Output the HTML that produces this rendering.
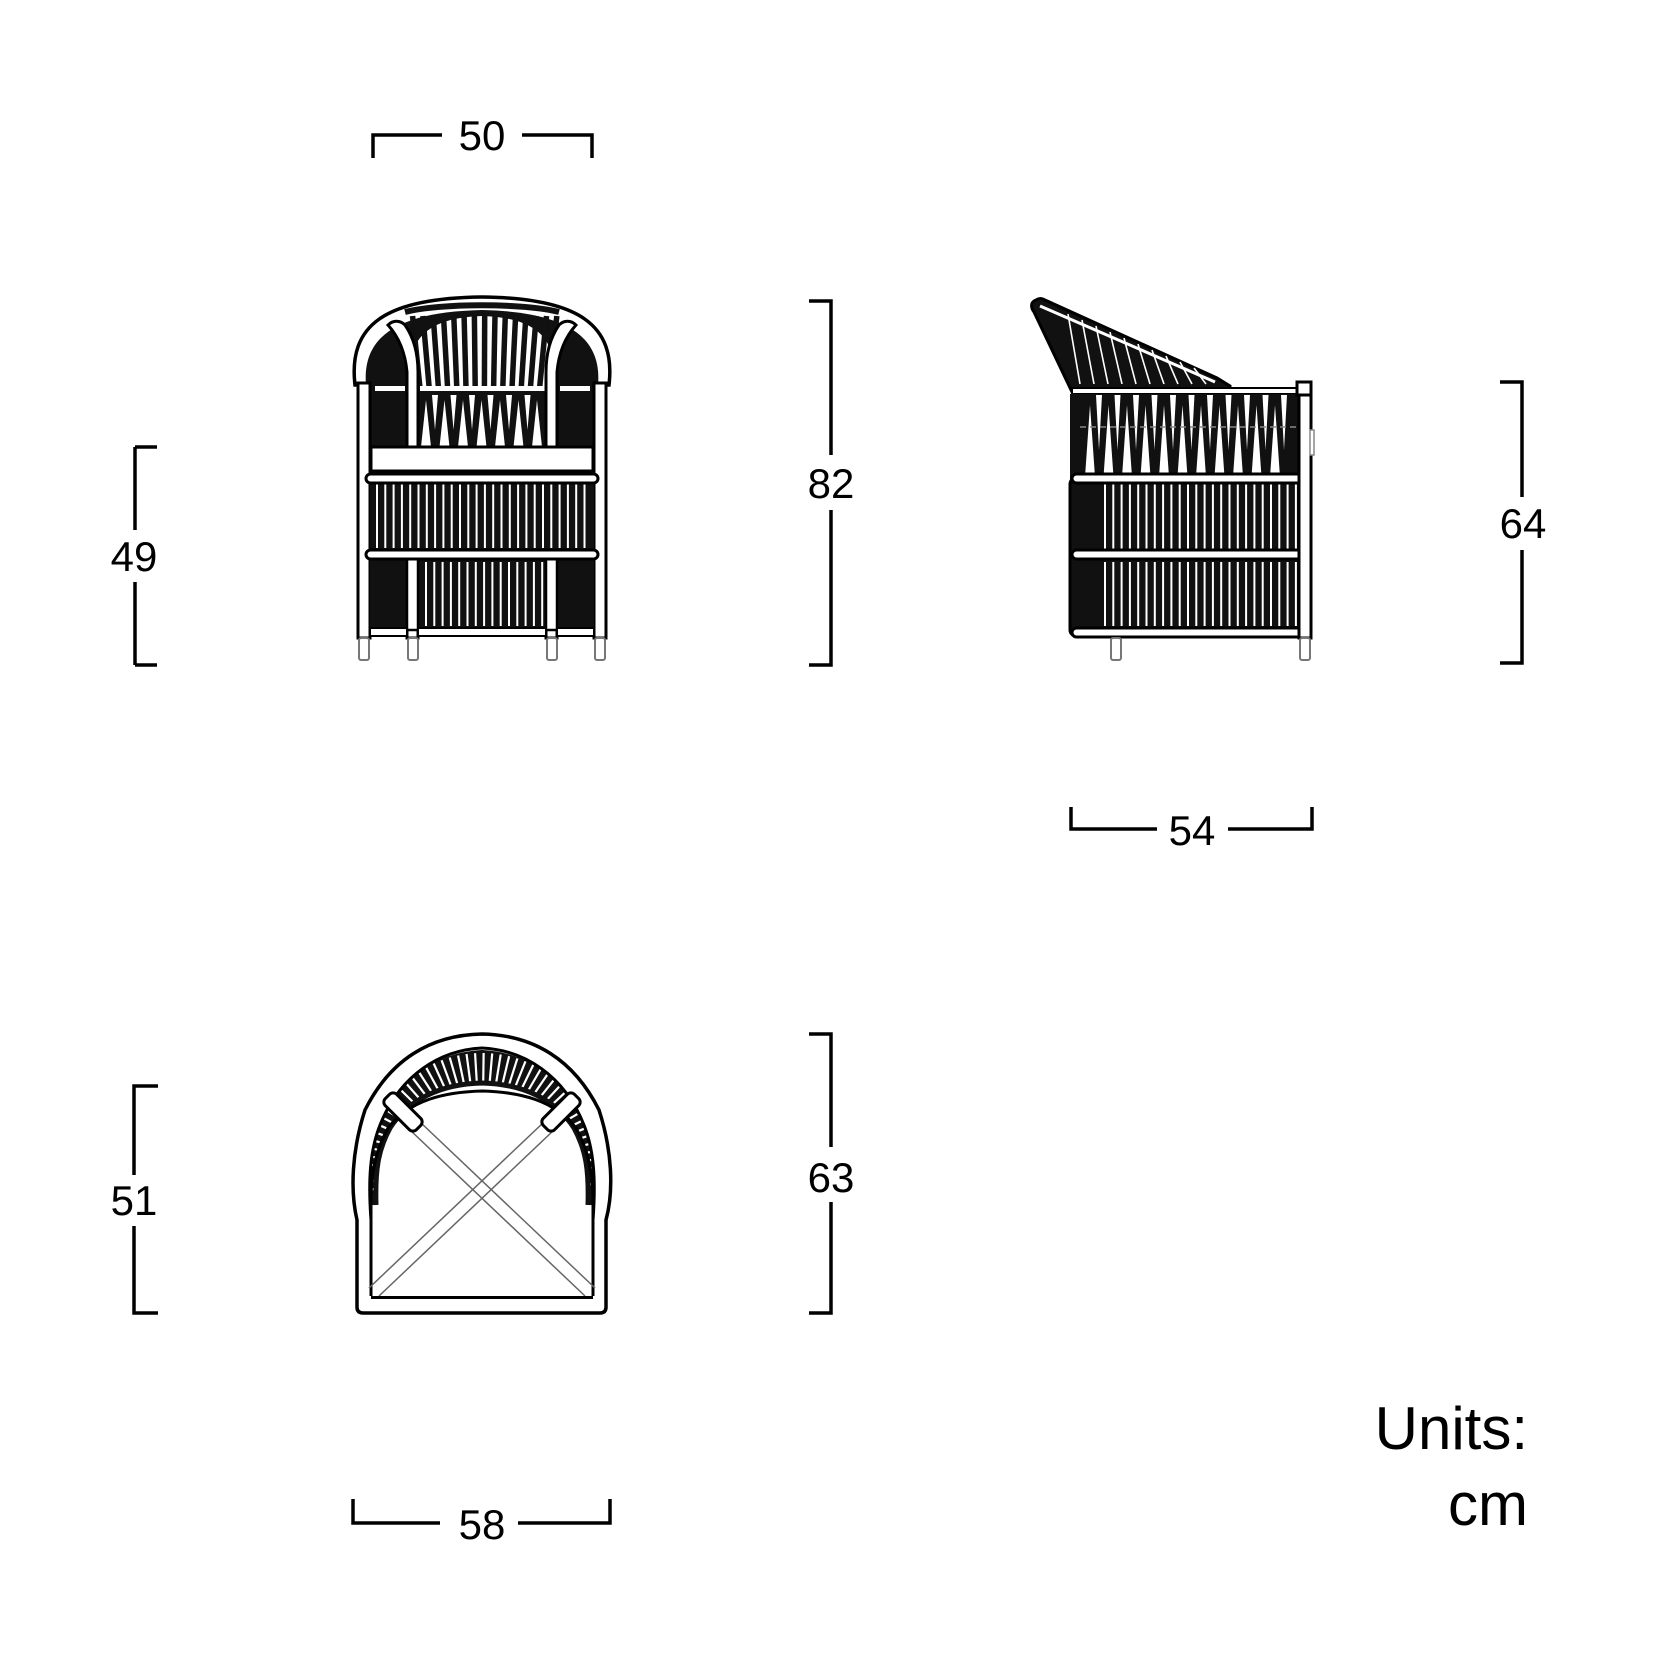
<!DOCTYPE html>
<html><head><meta charset="utf-8"><style>
html,body{margin:0;padding:0;background:#fff}
svg{display:block}
text{font-family:"Liberation Sans",Arial,sans-serif;fill:#000}
</style></head><body>
<svg id="s" width="1654" height="1654" viewBox="0 0 1654 1654" xmlns="http://www.w3.org/2000/svg">
<rect width="1654" height="1654" fill="#fff"/>
<g fill="none" stroke="#000" stroke-width="3.5">
<polyline points="373,158 373,135 442,135"/><polyline points="522,135 592,135 592,158"/>
<polyline points="135,447 157,447"/><line x1="135" y1="447" x2="135" y2="530"/><line x1="135" y1="582" x2="135" y2="665"/><polyline points="135,665 157,665"/>
<polyline points="809,301 831,301 831,455"/><polyline points="831,510 831,665 809,665"/>
<polyline points="1500,382 1522,382 1522,497"/><polyline points="1522,550 1522,663 1500,663"/>
<polyline points="1071,807 1071,829 1157,829"/><polyline points="1228,829 1312,829 1312,807"/>
<polyline points="158,1086 134,1086 134,1175"/><polyline points="134,1226 134,1313 158,1313"/>
<polyline points="809,1034 831,1034 831,1147"/><polyline points="831,1202 831,1313 809,1313"/>
<polyline points="353,1499 353,1523 440,1523"/><polyline points="518,1523 610,1523 610,1499"/>
</g>
<g font-size="42" text-anchor="middle">
<text x="482" y="150">50</text>
<text x="134" y="571">49</text>
<text x="831" y="498">82</text>
<text x="1523" y="538">64</text>
<text x="1192" y="845">54</text>
<text x="134" y="1215">51</text>
<text x="831" y="1192">63</text>
<text x="482" y="1539">58</text>
</g>
<g font-size="60" text-anchor="end">
<text x="1528" y="1449">Units:</text>
<text x="1528" y="1525">cm</text>
</g>
<g id="front"></g>
<g id="side"></g>
<g id="top"></g>
</svg>
<script>
var NS="http://www.w3.org/2000/svg";
function el(p,t,a){var e=document.createElementNS(NS,t);for(var k in a)e.setAttribute(k,a[k]);document.getElementById(p).appendChild(e);return e;}
function R(p,x,y,w,h,f,s,sw,rx){return el(p,'rect',{x:x,y:y,width:w,height:h,fill:f||'#000',stroke:s||'none','stroke-width':sw||0,rx:rx||0});}
var F='front';
el(F,'path',{d:'M355,385 C348,325 385,298 482,297 C579,298 616,325 609,385 Z',fill:'#fff',stroke:'#000','stroke-width':3.5});
el(F,'path',{d:'M366,385 C362,338 395,312 482,310 C569,312 602,338 598,385 Z',fill:'#111'});
R(F,366,385,232,245,'#111');
el(F,'path',{d:'M412,388 C405,345 420,318 482,316 C544,318 559,345 552,388 Z',fill:'#fff'});
for(var i=0;i<15;i++){var x=420+i*9.2;el(F,'path',{d:'M'+(x+ (x-482)*0.12)+',316 L'+(x)+',388',stroke:'#111','stroke-width':5.5,fill:'none'});}
el(F,'path',{d:'M405,312 C440,303 524,303 559,312',stroke:'#111','stroke-width':6,fill:'none'});
R(F,375,386,30,5,'#fff');R(F,420,386,125,5,'#fff');R(F,560,386,30,5,'#fff');
for(var i=0;i<7;i++){var x=426+i*18.5;el(F,'path',{d:'M'+(x-5)+',447 L'+x+',400 L'+(x+5)+',447 Z',fill:'#fff'});}
for(var i=0;i<6;i++){var x=435+i*18.5;el(F,'path',{d:'M'+(x-3)+',395 L'+x+',430 L'+(x+3)+',395 Z',fill:'#fff'});}
R(F,358,383,12,255,'#fff','#000',3);R(F,594,383,12,255,'#fff','#000',3);
el(F,'path',{d:'M407,638 L407,372 C405,350 397,335 388,325 C393,320 400,320 405,325 C414,338 418,355 418,372 L418,638 Z',fill:'#fff',stroke:'#000','stroke-width':3});
el(F,'path',{d:'M557,638 L557,372 C559,350 567,335 576,325 C571,320 564,320 559,325 C550,338 546,355 546,372 L546,638 Z',fill:'#fff',stroke:'#000','stroke-width':3});
R(F,371,447,222,24,'#fff','#000',3);
R(F,370,482,224,68,'#111');
for(var x=376;x<590;x+=8.3)R(F,x,484,2,64,'#fff');
R(F,370,558,224,72,'#111');
R(F,407,558,11,72,'#fff','#000',2.5);R(F,546,558,11,72,'#fff','#000',2.5);
for(var x=425;x<542;x+=8.3)R(F,x,562,2,64,'#fff');
R(F,366,474,232,9,'#fff','#000',3,4.5);
R(F,366,550,232,9,'#fff','#000',3,4.5);
R(F,370,628,37,8,'#fff','#000',2);R(F,418,628,128,8,'#fff','#000',2);R(F,557,628,37,8,'#fff','#000',2);
[358,407,546,594].forEach(function(x){R(F,x+1,638,10,22,'#fff','#777',2,2);});
var S='side';
el(S,'path',{d:'M1036,300 C1030,302 1031,308 1034,312 L1072,392 L1230,392 L1230,386 L1217,378 L1045,300 C1042,298 1039,298 1036,300 Z',fill:'#111',stroke:'#000','stroke-width':3});
el(S,'path',{d:'M1040,306 L1215,382',stroke:'#fff','stroke-width':3});
for(var i=0;i<10;i++){var x=1068+i*14;el(S,'path',{d:'M'+x+','+(314+i*6)+' L'+(x+12)+',384',stroke:'#fff','stroke-width':1.6});}
R(S,1072,388,228,6,'#fff','#000',2);
R(S,1070,394,228,86,'#111');
for(var i=0;i<11;i++){var x=1090+i*18.5;el(S,'path',{d:'M'+(x-5)+',477 L'+x+',405 L'+(x+5)+',477 Z',fill:'#fff'});}
for(var i=0;i<11;i++){var x=1099+i*18.5;el(S,'path',{d:'M'+(x-3)+',395 L'+x+',450 L'+(x+3)+',395 Z',fill:'#fff'});}
el(S,'line',{x1:1080,y1:427,x2:1298,y2:427,stroke:'#888','stroke-width':1.5,'stroke-dasharray':'6,4'});
R(S,1070,478,230,158,'#111','#000',3,6);
for(var x=1104;x<1295;x+=8.3){R(S,x,484,2,70,'#fff');R(S,x,562,2,64,'#fff');}
R(S,1072,474,230,9,'#fff','#000',3,4.5);
R(S,1072,550,230,9,'#fff','#000',3,4.5);
R(S,1072,628,230,9,'#fff','#000',3,4.5);
R(S,1299,383,12,255,'#fff','#000',3);R(S,1297,382,14,13,'#fff','#000',3);
R(S,1310,430,4,25,'#fff','#888',1.5);
R(S,1111,638,10,22,'#fff','#777',2,2);R(S,1300,638,10,22,'#fff','#777',2,2);
var T='top';
el(T,'path',{d:'M357,1307 L357,1220 C350,1190 352,1150 365,1110 C390,1060 430,1035 482,1034 C534,1035 574,1060 599,1110 C612,1150 614,1190 606,1220 L606,1307 Q606,1313 600,1313 L363,1313 Q357,1313 357,1307 Z',fill:'#fff',stroke:'#000','stroke-width':3.5});
el(T,'path',{d:'M371,1205 C368,1170 370,1145 380,1122 C400,1075 440,1052 482,1050 C524,1052 564,1075 584,1122 C594,1145 596,1170 593,1205 L588,1205 C589,1170 586,1150 574,1128 C556,1100 524,1084 482,1083 C440,1084 408,1100 390,1128 C378,1150 375,1170 376,1205 Z',fill:'#111'});
for(var a=-100;a<=100;a+=4.2){var r=a*Math.PI/180;var cx=482,cy=1170;
el(T,'line',{x1:cx+Math.sin(r)*70,y1:cy-Math.cos(r)*70,x2:cx+Math.sin(r)*117,y2:cy-Math.cos(r)*117,stroke:'#fff','stroke-width':2.2});}
el(T,'path',{d:'M376,1205 C375,1170 378,1150 390,1128 C408,1100 440,1084 482,1083 C524,1084 556,1100 574,1128 C586,1150 589,1170 588,1205',fill:'none',stroke:'#111','stroke-width':5});
el(T,'path',{d:'M371,1220 C368,1180 370,1150 380,1125 C400,1075 440,1050 482,1048 C524,1050 564,1075 584,1125 C594,1150 596,1180 593,1220',fill:'none',stroke:'#000','stroke-width':3});
el(T,'path',{d:'M371,1296 L371,1195 C372,1170 376,1150 388,1128 C410,1100 444,1092 482,1091 C520,1092 554,1100 576,1128 C588,1150 592,1170 593,1195 L593,1296',fill:'none',stroke:'#000','stroke-width':3});
el(T,'line',{x1:410,y1:1130,x2:585,y2:1296,stroke:'#666','stroke-width':1.5});
el(T,'line',{x1:420,y1:1122,x2:595,y2:1288,stroke:'#666','stroke-width':1.5});
el(T,'line',{x1:554,y1:1130,x2:379,y2:1296,stroke:'#666','stroke-width':1.5});
el(T,'line',{x1:544,y1:1122,x2:369,y2:1288,stroke:'#666','stroke-width':1.5});
el(T,'rect',{x:-8,y:-22,width:16,height:44,rx:5,fill:'#fff',stroke:'#000','stroke-width':3,transform:'translate(403,1112) rotate(-45)'});
el(T,'rect',{x:-8,y:-22,width:16,height:44,rx:5,fill:'#fff',stroke:'#000','stroke-width':3,transform:'translate(561,1112) rotate(45)'});
R(T,371,1296,222,3,'#000');
</script>
</body></html>
